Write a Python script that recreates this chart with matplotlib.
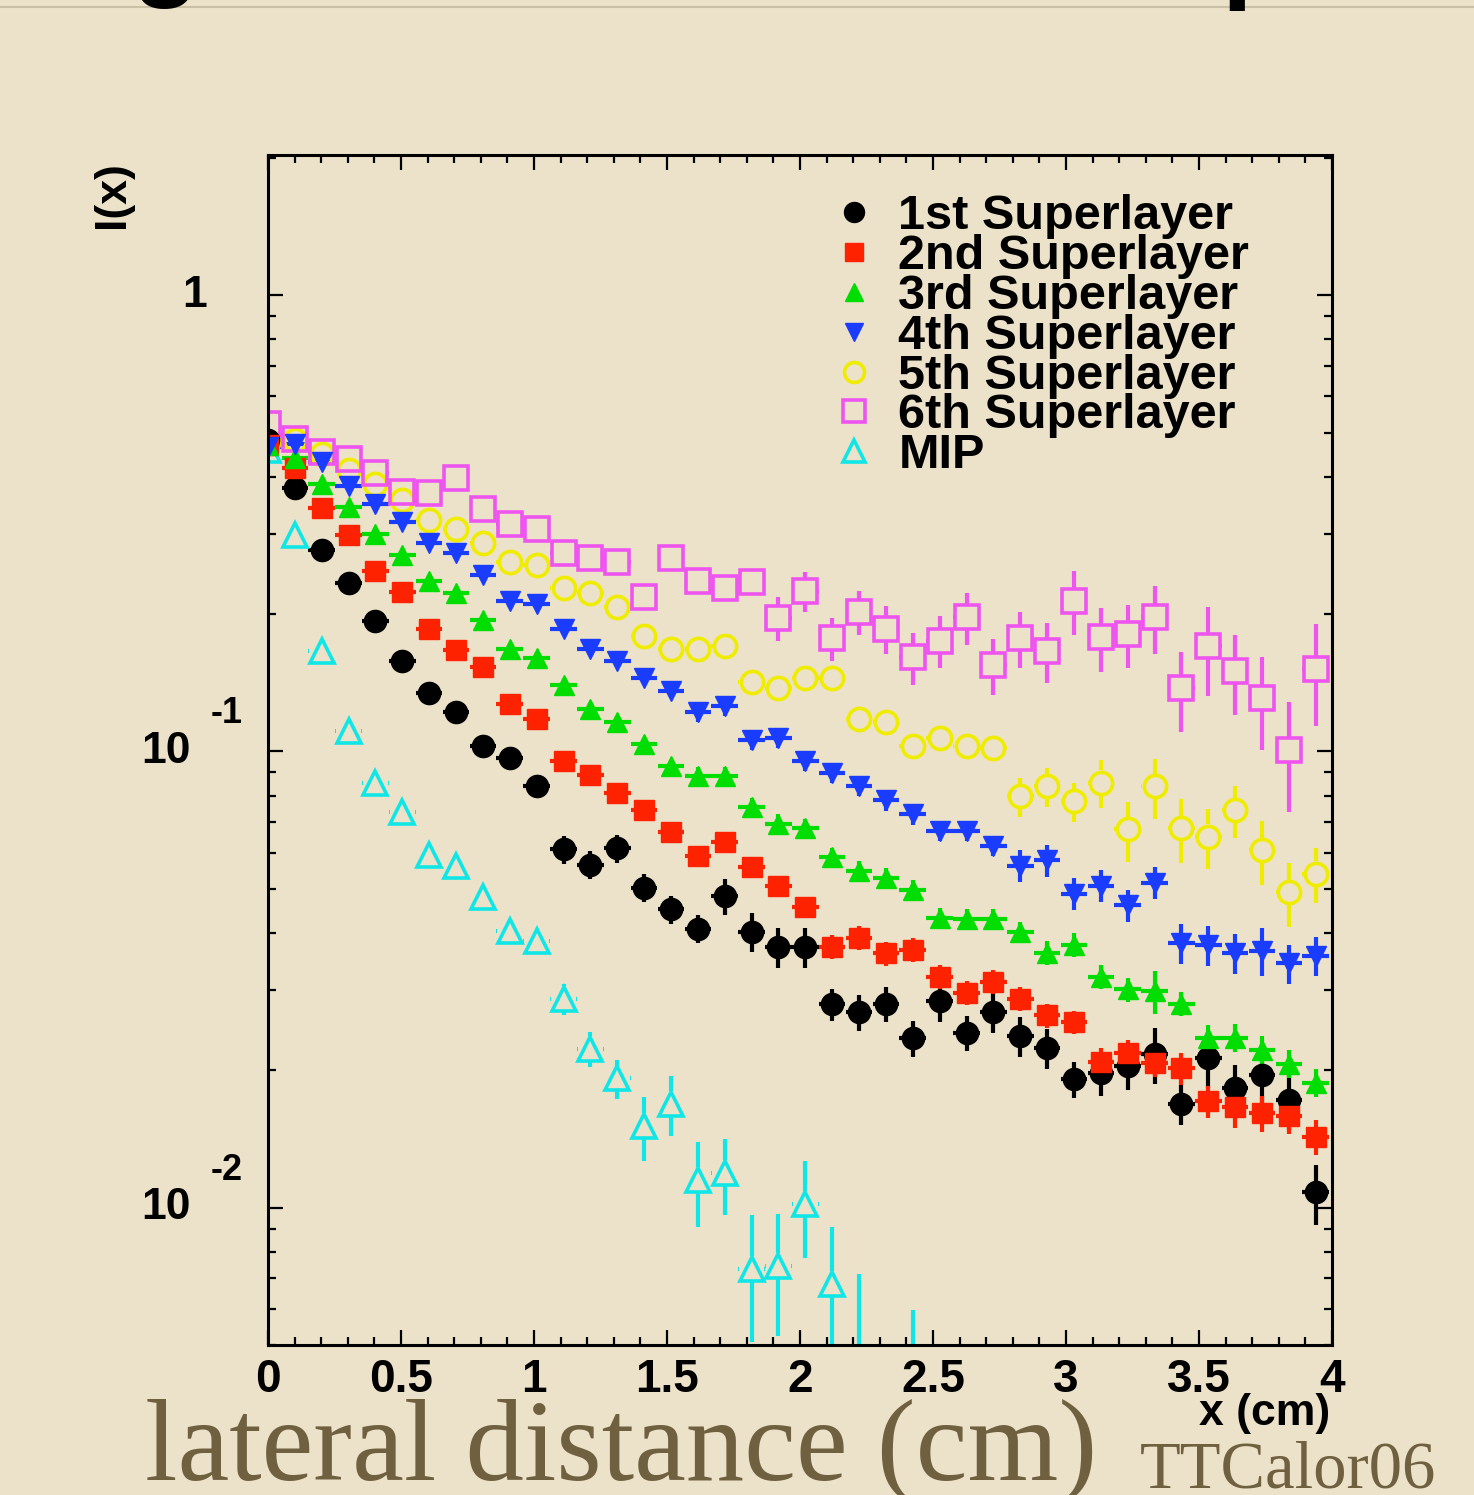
import numpy as np
import matplotlib.pyplot as plt
from matplotlib.lines import Line2D
from matplotlib import transforms
from matplotlib.ticker import MultipleLocator, NullFormatter

# lateral profile I(x), one value per 1 mm pad
x = np.arange(40) * 0.101

layer1 = [0.481, 0.379, 0.277, 0.234, 0.193, 0.158, 0.134, 0.122, 0.103, 0.0970,
          0.0842, 0.0610, 0.0565, 0.0613, 0.0503, 0.0451, 0.0409, 0.0481, 0.0403, 0.0373,
          0.0373, 0.0279, 0.0268, 0.0280, 0.0235, 0.0284, 0.0242, 0.0268, 0.0238, 0.0224,
          0.0191, 0.0197, 0.0204, 0.0217, 0.0169, 0.0213, 0.0183, 0.0195, 0.0172, 0.0108]
layer2 = [0.469, 0.418, 0.341, 0.298, 0.249, 0.224, 0.186, 0.167, 0.153, 0.127,
          0.118, 0.0955, 0.0886, 0.0809, 0.0743, 0.0665, 0.0589, 0.0632, 0.0557, 0.0508,
          0.0455, 0.0373, 0.0391, 0.0361, 0.0368, 0.0321, 0.0296, 0.0313, 0.0287, 0.0264,
          0.0255, 0.0209, 0.0218, 0.0208, 0.0202, 0.0171, 0.0166, 0.0161, 0.0159, 0.0143]
layer3 = [0.469, 0.439, 0.385, 0.344, 0.299, 0.269, 0.236, 0.222, 0.194, 0.168,
          0.160, 0.140, 0.124, 0.116, 0.104, 0.0931, 0.0882, 0.0882, 0.0754, 0.0695,
          0.0678, 0.0586, 0.0548, 0.0529, 0.0498, 0.0432, 0.0430, 0.0430, 0.0403, 0.0362,
          0.0377, 0.0321, 0.0301, 0.0298, 0.0280, 0.0235, 0.0236, 0.0222, 0.0207, 0.0188]
layer4 = [0.465, 0.473, 0.430, 0.381, 0.348, 0.318, 0.286, 0.272, 0.244, 0.214,
          0.211, 0.186, 0.168, 0.158, 0.145, 0.136, 0.122, 0.126, 0.106, 0.107,
          0.0955, 0.0899, 0.0842, 0.0781, 0.0728, 0.0671, 0.0671, 0.0622, 0.0562, 0.0577,
          0.0488, 0.0508, 0.0460, 0.0516, 0.0381, 0.0376, 0.0362, 0.0366, 0.0343, 0.0357]
layer5 = [0.476, 0.481, 0.448, 0.415, 0.385, 0.355, 0.321, 0.308, 0.286, 0.260,
          0.256, 0.228, 0.223, 0.207, 0.179, 0.168, 0.168, 0.170, 0.142, 0.138,
          0.145, 0.145, 0.118, 0.116, 0.103, 0.107, 0.103, 0.102, 0.0797, 0.0838,
          0.0777, 0.0855, 0.0675, 0.0838, 0.0678, 0.0651, 0.0743, 0.0607, 0.0491, 0.0540]
layer6 = [0.521, 0.483, 0.453, 0.437, 0.407, 0.370, 0.369, 0.397, 0.340, 0.316,
          0.307, 0.272, 0.266, 0.260, 0.218, 0.266, 0.237, 0.228, 0.235, 0.196,
          0.225, 0.177, 0.202, 0.186, 0.161, 0.175, 0.197, 0.155, 0.177, 0.166,
          0.214, 0.178, 0.181, 0.197, 0.138, 0.170, 0.150, 0.131, 0.101, 0.152]
mip = [0.457, 0.298, 0.166, 0.111, 0.0855, 0.0735, 0.0592, 0.0560, 0.0479, 0.0405,
       0.0385, 0.0287, 0.0223, 0.0192, 0.0151, 0.0169, 0.0115, 0.0119, 0.00735, 0.00746,
       0.0102, 0.00681, 0.0042, np.nan, 0.0030, np.nan, np.nan, np.nan, np.nan, np.nan,
       np.nan, np.nan, np.nan, np.nan, np.nan, np.nan, np.nan, np.nan, np.nan, np.nan]

# relative errors
err1 = [0.04] * 11 + [0.07] * 6 + [0.09, 0.10, 0.10, 0.10, 0.08, 0.09, 0.09, 0.09, 0.10, 0.09,
                                    0.10, 0.10, 0.10, 0.09, 0.11, 0.11, 0.14, 0.10, 0.14, 0.12,
                                    0.13, 0.14, 0.15]
err2 = [0.03] * 11 + [0.05] * 10 + [0.06] * 10 + [0.07, 0.07, 0.07, 0.08, 0.08, 0.10, 0.09, 0.09, 0.09]
err3 = [0.03] * 16 + [0.05] * 13 + [0.06, 0.06, 0.06, 0.06, 0.11, 0.06, 0.07, 0.07, 0.07, 0.07, 0.07]
err4 = [0.03] * 16 + [0.05] * 12 + [0.08] * 6 + [0.10, 0.10, 0.10, 0.12, 0.10, 0.10]
err5 = [0.03] * 15 + [0.05] * 13 + [0.10, 0.10, 0.10, 0.12, 0.15, 0.15, 0.16, 0.15, 0.13, 0.16,
                                    0.16, 0.14]
err6 = [0.04] * 11 + [0.06] * 8 + [0.11, 0.10, 0.11, 0.11, 0.12, 0.13, 0.13, 0.13, 0.14, 0.14,
                                   0.15, 0.16, 0.16, 0.16, 0.17, 0.20, 0.22, 0.20, 0.23, 0.27,
                                   0.25]
err_mip = [0.04] * 11 + [0.08, 0.09, 0.10, 0.16, 0.15, 0.21, 0.19, 0.31, 0.30, 0.24,
                         0.33, 0.70, np.nan, 0.99] + [np.nan] * 15

labels = ['1st Superlayer', '2nd Superlayer', '3rd Superlayer', '4th Superlayer',
          '5th Superlayer', '6th Superlayer', 'MIP']

bg = '#ece2c9'
W, H = 1474, 1495
fig = plt.figure(figsize=(W / 100, H / 100), dpi=100)
fig.patch.set_facecolor(bg)
ax = fig.add_axes([268 / W, 1 - 1345 / H, (1332 - 268) / W, (1345 - 155) / H])
ax.set_facecolor(bg)
ax.set_yscale('log')
ax.set_xlim(0, 4)
ax.set_ylim(0.005, 2.03)

# pixels per x unit and per decade, to leave open markers empty like ROOT does
px_x = ax.bbox.width / 4.0
px_dec = ax.bbox.height / np.log10(2.03 / 0.005)

series = [
    (layer1, err1, dict(marker='o', color='black', ms=16)),
    (layer2, err2, dict(marker='s', color='#ff2200', ms=14.5)),
    (layer3, err3, dict(marker='^', color='#00dd00', ms=15)),
    (layer4, err4, dict(marker='v', color='#1a3cff', ms=15)),
    (layer5, err5, dict(marker='o', color='#f0ec00', ms=16, mfc='none', mew=2.6)),
    (layer6, err6, dict(marker='s', color='#ee55ee', ms=17, mfc='none', mew=2.6)),
    (mip, err_mip, dict(marker='^', color='#10e6e6', ms=17, mfc='none', mew=2.6)),
]

handles = []
for y, rel, st in series:
    y = np.array(y, dtype=float)
    yerr = y * np.array(rel, dtype=float)
    c = st['color']
    if st.get('mfc') == 'none':
        r = st['ms'] * 100 / 72 / 2 + 1
        f = 10 ** (r / px_dec)
        dx = r / px_x
        lo = np.maximum(y - yerr, 1e-4)
        up_start = np.maximum(y * f, y)
        dn_start = y / f
        ax.vlines(x, up_start, np.maximum(y + yerr, up_start), color=c, lw=3)
        ax.vlines(x, np.minimum(lo, dn_start), dn_start, color=c, lw=3)
        ax.hlines(y, x - 0.05, x - dx, color=c, lw=3)
        ax.hlines(y, x + dx, x + 0.05, color=c, lw=3)
        ax.plot(x, y, ls='none', marker=st['marker'], ms=st['ms'], mfc='none',
                mec=c, mew=st['mew'])
    else:
        ax.errorbar(x, y, yerr=yerr, xerr=0.05, fmt=st['marker'], color=c,
                    ms=st['ms'], mec=c, elinewidth=3, capsize=0)
    handles.append(Line2D([], [], ls='none', marker=st['marker'], color=c,
                          ms=st['ms'] * 0.9, mfc=st.get('mfc', c),
                          mec=c, mew=st.get('mew', 1)))

for s in ax.spines.values():
    s.set_linewidth(2.2)

ax.set_xticks([0, 0.5, 1, 1.5, 2, 2.5, 3, 3.5, 4])
ax.set_xticklabels(['0', '0.5', '1', '1.5', '2', '2.5', '3', '3.5', '4'],
                   fontsize=33, fontweight='bold', family='Liberation Sans')
ax.xaxis.set_minor_locator(MultipleLocator(0.1))
ax.yaxis.set_major_formatter(NullFormatter())
ax.yaxis.set_minor_formatter(NullFormatter())
ax.tick_params(which='both', direction='in', top=True, right=True, width=1.6)
ax.tick_params(which='major', length=11, pad=9)
ax.tick_params(which='minor', length=6)

# ROOT style y labels
tr = transforms.blended_transform_factory(fig.transFigure, ax.transData)
tfont = dict(fontsize=32, fontweight='bold', family='Liberation Sans')
fig.text(207 / W, 1.0, '1', transform=tr, ha='right', va='center', **tfont)
for v, ex in [(0.1, '-1'), (0.01, '-2')]:
    fig.text(191 / W, v, '10', transform=tr, ha='right', va='center', **tfont)
    fig.text(211 / W, v, ex, ha='left', va='center', fontsize=26, fontweight='bold',
             family='Liberation Sans',
             transform=transforms.offset_copy(tr, fig=fig, y=27, units='points'))

fig.text(1330 / W, 1 - 1413 / H, 'x (cm)', ha='right', va='center', **tfont)
fig.text(112 / W, 1 - 195 / H, 'I(x)', ha='center', va='center', rotation=90, **tfont)

ax.legend(handles, labels, loc='upper left', bbox_to_anchor=(839 / W, 1 - 194 / H),
          bbox_transform=fig.transFigure, frameon=False, borderpad=0, borderaxespad=0,
          handlelength=0.6, handletextpad=0.62, labelspacing=-0.105,
          prop=dict(size=35, weight='bold', family='Liberation Sans'))

# slide text
fig.text(145 / W, 1 - 1479 / H, 'lateral distance (cm)', ha='left', va='baseline',
         fontsize=84, family='Liberation Serif', color='#6f6040')
fig.text(1140 / W, 1 - 1488 / H, 'TTCalor06', ha='left', va='baseline',
         fontsize=48, family='Liberation Serif', color='#6f6040')
fig.text(165 / W, 1 + 14 / H, 'g', ha='center', va='baseline', fontsize=80,
         fontweight='bold', family='Liberation Sans')
fig.text(1222 / W, 1 + 12 / H, 'p', ha='left', va='baseline', fontsize=80,
         fontweight='bold', family='Liberation Sans')
fig.add_artist(Line2D([0, 1], [1 - 7 / H, 1 - 7 / H], transform=fig.transFigure,
                      color='#c9c0a6', lw=1.5))

plt.savefig('out.png', dpi=100, facecolor=bg)
